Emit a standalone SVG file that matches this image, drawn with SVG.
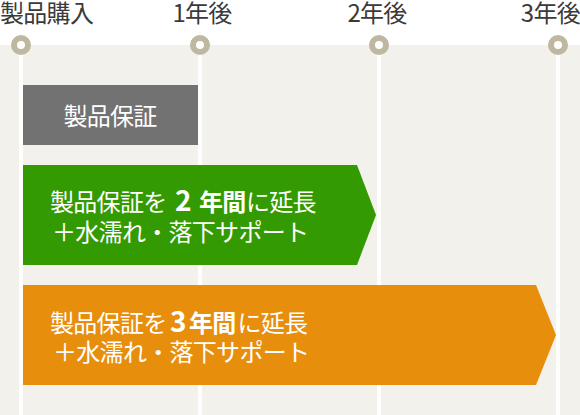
<svg xmlns="http://www.w3.org/2000/svg" width="580" height="415" viewBox="0 0 580 415">
<style>
.hdr{font-family:"Noto Sans CJK JP","Noto Sans",sans-serif;font-size:24px;letter-spacing:-0.7px;fill:#3a3a3a}
.wt{font-family:"Noto Sans CJK JP","Noto Sans",sans-serif;font-size:24px;letter-spacing:-0.7px;fill:#ffffff}
.b{font-weight:bold}
.num{font-weight:bold;font-size:28px}
.vl{stroke:#ffffff;stroke-width:4}
.dot{fill:#ffffff;stroke:#bdb89f;stroke-width:6}
</style>
<rect x="0" y="0" width="580" height="415" fill="#ffffff"/>
<rect x="0" y="45" width="580" height="370" fill="#f3f1eb"/>
<g id="timeline">
<line class="vl" x1="21" y1="45" x2="21" y2="415"/>
<line class="vl" x1="200" y1="45" x2="200" y2="415"/>
<line class="vl" x1="379" y1="45" x2="379" y2="415"/>
<line class="vl" x1="558" y1="45" x2="558" y2="415"/>
</g>
<g id="m0"><circle class="dot" cx="21" cy="45" r="7"/><text class="hdr" x="0" y="21.5">製品購入</text></g>
<g id="m1"><circle class="dot" cx="200" cy="45" r="7"/><text class="hdr" x="202" y="21.5" text-anchor="middle">1年後</text></g>
<g id="m2"><circle class="dot" cx="379" cy="45" r="7"/><text class="hdr" x="377" y="21.5" text-anchor="middle">2年後</text></g>
<g id="m3"><circle class="dot" cx="558" cy="45" r="7"/><text class="hdr" x="580" y="21.5" text-anchor="end">3年後</text></g>
<g id="standard">
<rect x="23" y="85" width="175" height="60" fill="#727272"/>
<text class="wt" x="110" y="124.5" text-anchor="middle">製品保証</text>
</g>
<g id="plan2">
<polygon points="23,165 357,165 376,215 357,265 23,265" fill="#349a02"/>
<text class="wt" y="210.5"><tspan x="50">製品保証を</tspan><tspan class="num" x="175">2</tspan><tspan class="b" x="199">年間</tspan><tspan x="246">に延長</tspan></text>
<text class="wt" x="52" y="240.5">＋水濡れ・落下サポート</text>
</g>
<g id="plan3">
<polygon points="23,285 536,285 556,335 536,385 23,385" fill="#e88e0d"/>
<text class="wt" y="331.5"><tspan x="50">製品保証を</tspan><tspan class="num" x="170">3</tspan><tspan class="b" x="189">年間</tspan><tspan x="237.5">に延長</tspan></text>
<text class="wt" x="53" y="360.5">＋水濡れ・落下サポート</text>
</g>
</svg>
